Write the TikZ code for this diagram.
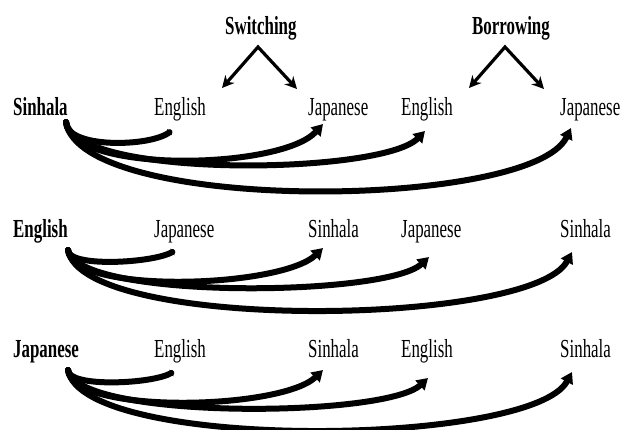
\documentclass[tikz,border=0pt]{standalone}
\usepackage{fontspec}
\setmainfont{Liberation Serif}[FakeStretch=0.65]
\usetikzlibrary{arrows.meta}
\tikzstyle{link} = [line width=6pt, line cap=round, -{Triangle[length=11pt,width=13pt]}]
\tikzstyle{shortlink} = [line width=6pt, line cap=round, -{Triangle[length=2pt,width=8pt]}]
\tikzstyle{branch} = [line width=3.2pt, {Stealth[length=12pt,width=12pt]}-{Stealth[length=12pt,width=12pt]}]

\begin{document}
\begin{tikzpicture}[x=1pt, y=-1pt]
    \tikzstyle{word} = [anchor=base west, inner sep=0pt, font=\fontsize{26}{30}\selectfont]
    \tikzstyle{lang} = [word, font=\fontsize{26}{30}\selectfont\bfseries]
    \useasboundingbox (0,0) rectangle (624,430);

    % headings
    \node[lang] (switch) at (225,35) {Switching};
    \node[lang] (borrow) at (472,35) {Borrowing};
    \coordinate (swtop) at ([shift={(33,12)}]switch.base west);
    \coordinate (swl) at ([shift={(-3,53)}]switch.base west);
    \coordinate (swr) at ([shift={(72,54)}]switch.base west);
    \coordinate (bwtop) at ([shift={(33,12)}]borrow.base west);
    \coordinate (bwl) at ([shift={(-3,53)}]borrow.base west);
    \coordinate (bwr) at ([shift={(72,54)}]borrow.base west);
    \draw[branch] (swl) -- (swtop) -- (swr);
    \draw[branch] (bwl) -- (bwtop) -- (bwr);

    % row 1
    \node[lang] (sin1) at (13,116) {Sinhala};
    \node[word] (eng1a) at (154,116) {English};
    \node[word] (jap1a) at (308,116) {Japanese};
    \node[word] (eng1b) at (401,116) {English};
    \node[word] (jap1b) at (560,116) {Japanese};

    % row 2
    \node[lang] (eng2) at (13,238) {English};
    \node[word] (jap2a) at (154,238) {Japanese};
    \node[word] (sin2a) at (308,238) {Sinhala};
    \node[word] (jap2b) at (401,238) {Japanese};
    \node[word] (sin2b) at (560,238) {Sinhala};

    % row 3
    \node[lang] (jap3) at (13,358) {Japanese};
    \node[word] (eng3a) at (154,358) {English};
    \node[word] (sin3a) at (308,358) {Sinhala};
    \node[word] (eng3b) at (401,358) {English};
    \node[word] (sin3b) at (560,358) {Sinhala};

    % curved links
    \draw[shortlink] ([shift={(53,6)}]sin1.base west) .. controls +(0,27) and +(-20,16) .. ([shift={(17,15)}]eng1a.base west);
    \draw[link] ([shift={(53,6)}]sin1.base west) .. controls +(4,52) and +(-42,46) .. ([shift={(15,8)}]jap1a.base west);
    \draw[link] ([shift={(53,6)}]sin1.base west) .. controls +(9,57) and +(-43,44) .. ([shift={(24,15)}]eng1b.base west);
    \draw[link] ([shift={(53,6)}]sin1.base west) .. controls +(14,92) and +(-40,82) .. ([shift={(11,12)}]jap1b.base west);

    \draw[shortlink] ([shift={(55,12)}]eng2.base west) .. controls +(0,18) and +(-20,12) .. ([shift={(20,13)}]jap2a.base west);
    \draw[link] ([shift={(55,12)}]eng2.base west) .. controls +(4,45) and +(-42,40) .. ([shift={(15,10)}]sin2a.base west);
    \draw[link] ([shift={(55,12)}]eng2.base west) .. controls +(9,50) and +(-43,40) .. ([shift={(28,19)}]jap2b.base west);
    \draw[link] ([shift={(55,12)}]eng2.base west) .. controls +(14,82) and +(-40,75) .. ([shift={(12,14)}]sin2b.base west);

    \draw[shortlink] ([shift={(55,12)}]jap3.base west) .. controls +(0,18) and +(-20,12) .. ([shift={(19,14)}]eng3a.base west);
    \draw[link] ([shift={(55,12)}]jap3.base west) .. controls +(4,45) and +(-42,40) .. ([shift={(15,12)}]sin3a.base west);
    \draw[link] ([shift={(55,12)}]jap3.base west) .. controls +(9,50) and +(-43,40) .. ([shift={(27,20)}]eng3b.base west);
    \draw[link] ([shift={(55,12)}]jap3.base west) .. controls +(14,82) and +(-40,75) .. ([shift={(12,14)}]sin3b.base west);
\end{tikzpicture}
\end{document}
